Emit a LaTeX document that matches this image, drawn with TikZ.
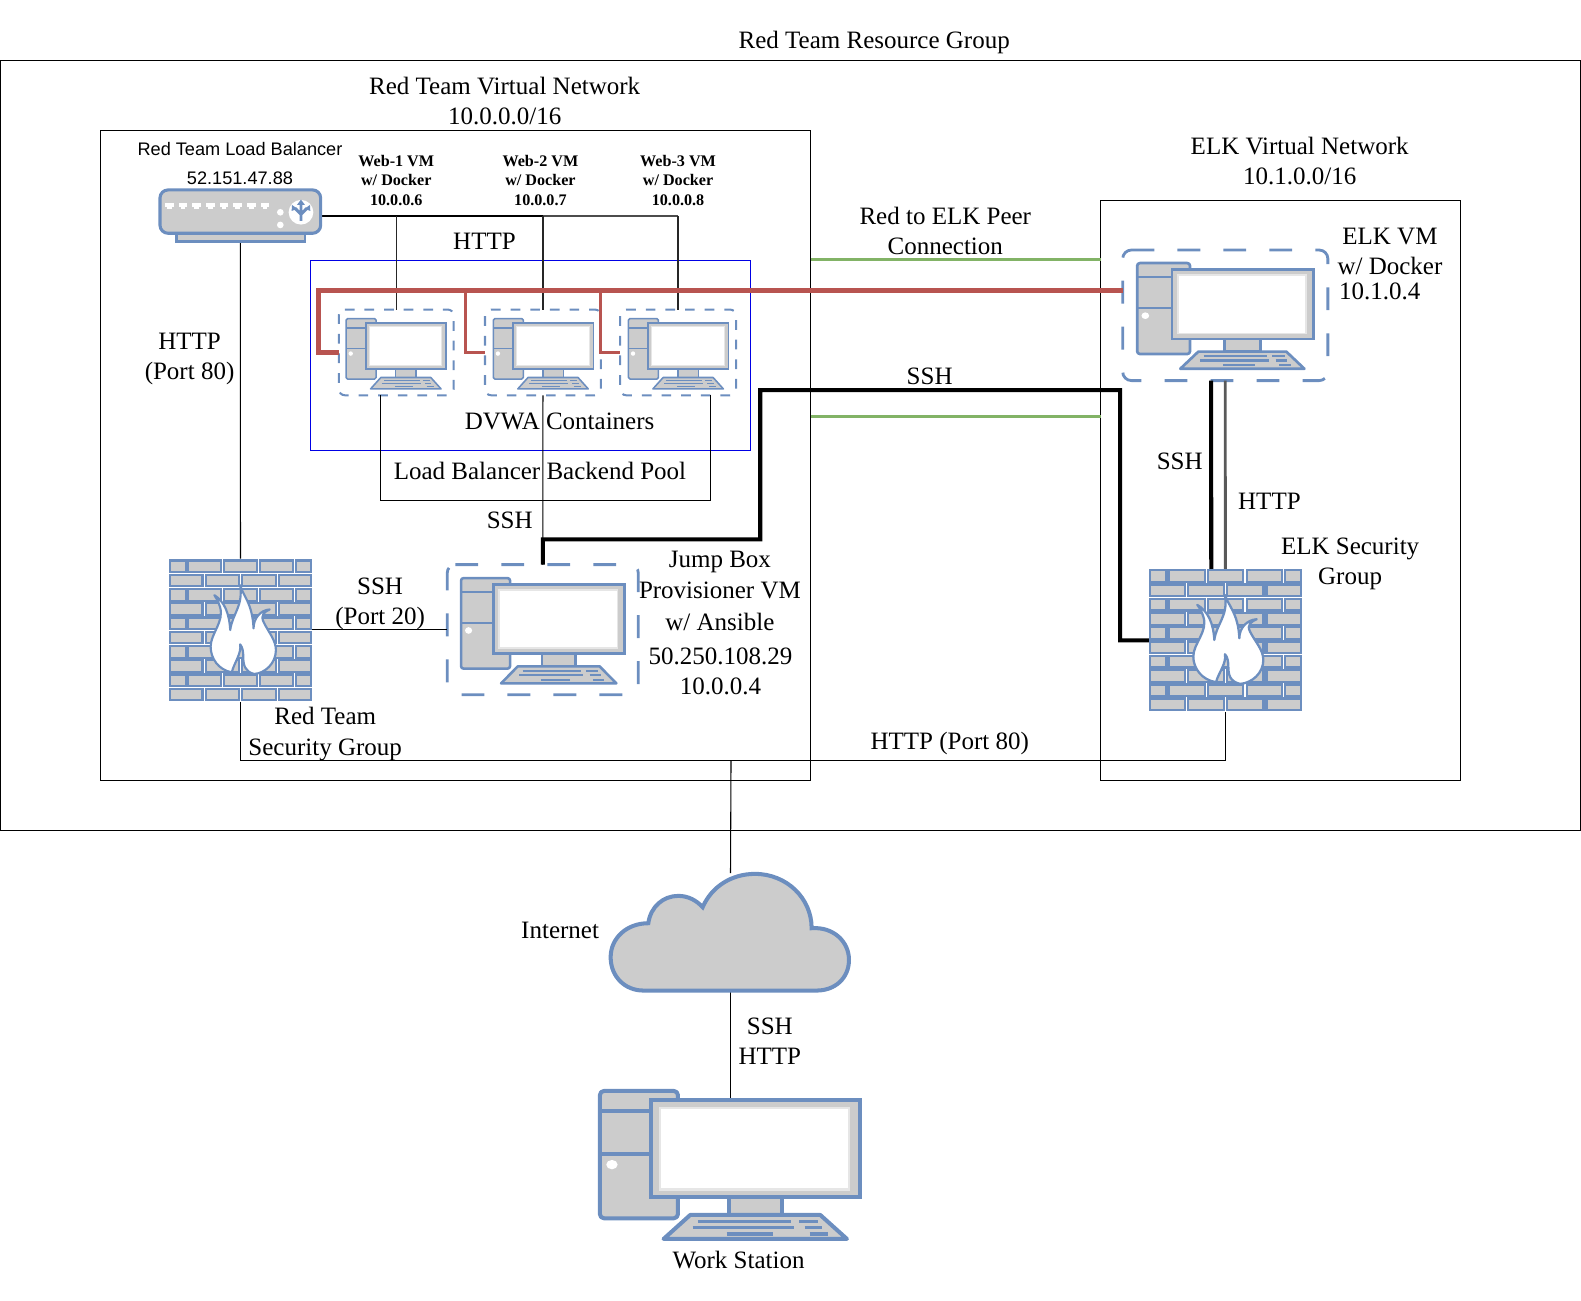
\documentclass[tikz,border=0pt]{standalone}
\usepackage{fontspec}
\setmainfont{Liberation Serif}
\newfontfamily\lbfont{Liberation Sans}
\definecolor{icb}{HTML}{6C8EBF}
\definecolor{icg}{HTML}{CCCCCC}
\definecolor{icl}{HTML}{E6E6E6}
\definecolor{redl}{HTML}{B85450}
\definecolor{grnl}{HTML}{82B366}
\newcommand\pcicon[5]{%
\begin{scope}[shift={(#1,#2)},xscale={#3/787},yscale={#4/452},line join=round]
\filldraw[fill=icg,draw=icb,line width=#5pt,rounded corners=#5pt] (6,6) rectangle (240,388);
\draw[icb,line width=#5pt] (6,65)--(160,65) (6,195)--(160,195);
\fill[white] (42,227) ellipse (17 and 14);
\filldraw[fill=icg,draw=icb,line width=#5pt] (392,325) rectangle (552,378);
\filldraw[fill=icg,draw=icb,line width=#5pt,line join=miter] (160,33) rectangle (787,325);
\fill[icl] (182,53) rectangle (757,306);
\fill[white] (190,60) rectangle (749,298);
\filldraw[fill=icg,draw=icb,line width=#5pt] (277,378)--(667,378)--(747,450)--(197,450)--cycle;
\draw[icb,line width=0.85*#5pt] (300,397)--(580,397) (604,397)--(659,397) (284,415)--(588,415) (620,415)--(672,415) (386,435)--(526,435) (635,435)--(689,435);
\end{scope}}
\newcommand\fwicon[5]{%
\begin{scope}[shift={(#1,#2)},xscale={#3/458},yscale={#4/428}]
\fill[white] (0,0) rectangle (458,428);
\foreach \r in {0,2,4,6,8}{
 \foreach \a/\b in {0/56,58/170,173/286,290/401,405/458}{
  \filldraw[fill=icg,draw=icb,line width=#5pt] (\a+3,{\r*42.8+4}) rectangle (\b-3,{\r*42.8+39});}}
\foreach \r in {1,3,5,7,9}{
 \foreach \a/\b in {0/110,114/228,232/346,349/458}{
  \filldraw[fill=icg,draw=icb,line width=#5pt] (\a+3,{\r*42.8+4}) rectangle (\b-3,{\r*42.8+39});}}
\begin{scope}[shift={(-12,-27)}]
\filldraw[fill=white,draw=icb,line width=#5pt,line join=round]
 (240,105) .. controls (248,135) and (280,160) .. (283,235)
 .. controls (283,205) and (305,180) .. (335,178)
 .. controls (318,185) and (305,195) .. (315,215)
 .. controls (330,245) and (355,270) .. (355,300)
 .. controls (355,340) and (320,370) .. (285,372)
 .. controls (255,365) and (250,345) .. (250,320)
 .. controls (250,305) and (248,292) .. (240,283)
 .. controls (245,310) and (220,340) .. (213,367)
 .. controls (170,360) and (145,325) .. (145,290)
 .. controls (145,250) and (190,215) .. (175,170)
 .. controls (170,155) and (165,145) .. (157,135)
 .. controls (190,155) and (205,190) .. (208,240)
 .. controls (215,190) and (250,170) .. (240,105) -- cycle;
\end{scope}
\end{scope}}
% dashed outline of a box, clockwise from just after its top-left corner
\newcommand\dashoutline[3]{%
\draw[#2,rounded corners=#3] ([xshift=#3]#1.north west) -- (#1.north east) -- (#1.south east) -- (#1.south west) -- (#1.north west) -- ([xshift=#3]#1.north west);}
\tikzset{
 x=0.75pt,y=-0.75pt,
 lab/.style={inner sep=0pt,outer sep=0pt,align=center,font=\fontsize{18.6}{22.5}\selectfont},
 labsp/.style={lab,font=\fontsize{18.6}{23.25}\selectfont},
 lblab/.style={inner sep=0pt,align=center,font=\lbfont\fontsize{13.5}{16}\selectfont},
 weblab/.style={inner sep=0pt,align=center,font=\bfseries\fontsize{12}{14.25}\selectfont},
 anch/.style 2 args={rectangle,inner sep=0pt,outer sep=0pt,minimum width=#1*0.75pt,minimum height=#2*0.75pt},
 dasha/.style={draw=icb,line width=2.1pt,dash pattern=on 17pt off 17.2pt},
 dashb/.style={draw=icb,line width=1.5pt,dash pattern=on 7.2pt off 7.4pt},
 region/.style={draw=black,line width=0.75pt},
 thinln/.style={draw=black,line width=0.8pt},
 webln/.style={draw=black!85,line width=1.1pt},
 thickln/.style={draw=black,line width=3pt,line join=miter},
 redthick/.style={draw=redl,line width=3.6pt,line join=miter},
 redthin/.style={draw=redl,line width=2.2pt,line join=miter},
 peer/.style={draw=grnl,line width=2.2pt},
}
\begin{document}
\begin{tikzpicture}
\useasboundingbox (0,0) rectangle (1568,1290);
% regions
\draw[region] (0.5,60) rectangle (1567.5,824);
\draw[region] (99.5,129.5) rectangle (804,774);
\draw[region] (1091.5,198.5) rectangle (1448.5,774);
\draw[draw=blue!90!black,line width=0.7pt] (308,258.5) rectangle (744.5,446.5);
% anchor nodes
\node[anch={159.3}{51.2}] (lb) at (238.35,214) {};
\node[anch={141.2}{141.2}] (fwred) at (238.5,624.5) {};
\node[anch={151.5}{141.5}] (fwelk) at (1215.3,635) {};
\node[anch={239}{117}] (cloud) at (724.5,924.5) {};
\node[anch={260}{139}] (ws) at (724.5,1160.5) {};
\node[anch={114}{85}] (web1) at (393,349.5) {};
\node[anch={115}{85}] (web2) at (538.5,349.5) {};
\node[anch={115}{85}] (web3) at (672.5,349.5) {};
\node[anch={189.4}{129}] (jump) at (538.3,624.5) {};
\node[anch={203.5}{129.5}] (elk) at (1215.2,312.7) {};
\dashoutline{web1}{dashb}{4.5pt}
\dashoutline{web2}{dashb}{4.5pt}
\dashoutline{web3}{dashb}{4.5pt}
\dashoutline{jump}{dasha}{6pt}
\dashoutline{elk}{dasha}{6.5pt}
% free ends and bends
\coordinate (busR) at (672.5,214);
\coordinate (poolL) at (377.5,496);
\coordinate (poolR) at (704.5,496);
\coordinate (inet) at (725,754);
\coordinate (redW1) at (316,288);
\coordinate (redW2) at (462,288);
\coordinate (redW3) at (596,288);
\coordinate (jmpA) at (538.5,535);
\coordinate (jmpB) at (754,535);
\coordinate (jmpC) at (754,387);
\coordinate (jmpD) at (1111,387);
\coordinate (peerA) at (804,257);
\coordinate (peerB) at (1091.5,257);
\coordinate (peerC) at (804,413.5);
\coordinate (peerD) at (1091.5,413.5);
% thin connectors
\draw[thinln] (web1.south -| poolL) -- (poolL) -- (poolR) -- (web3.south -| poolR);
\draw[thinln] (web2.south) -- (jump.north);
\draw[thinln] (lb.south) -- (fwred.north);
\draw[thinln] (fwred.east) -- (jump.west);
\draw[thinln] (fwred.south) |- (fwelk.south |- inet) -- (fwelk.south);
\draw[thinln] (inet) -- (cloud.north);
\draw[thinln] (cloud.south) -- (ws.north);
% HTTP bus
\draw[black,line width=1.6pt] (lb.east) -- (web2.north |- lb.east);
\draw[black!70,line width=1.6pt] (web2.north |- lb.east) -- (busR);
\draw[webln] (web1.north |- lb.east) -- (web1.north);
\draw[webln] (web2.north |- lb.east) -- (web2.north);
\draw[webln] (web3.north |- lb.east) -- (web3.north);
% peering
\draw[peer] (peerA) -- (peerB);
\draw[peer] (peerC) -- (peerD);
% red
\draw[redthin] (redW2) |- (web2.west);
\draw[redthin] (redW3) |- (web3.west);
\draw[redthick] (elk.west |- redW1) -- (redW1) |- (web1.west);
% thick SSH
\draw[thickln] (jump.north) -- (jmpA) -- (jmpB) -- (jmpC) -- (jmpD) |- (fwelk.west);
\draw[thickln] ([xshift=-10.5pt]elk.south) -- ([xshift=-10.5pt]fwelk.north);
\draw[draw=black!65,line width=2.1pt] (elk.south) -- (fwelk.north);
% icons
\pcicon{342.5}{315}{100}{71}{1.15}
\pcicon{488.5}{315}{100}{71}{1.15}
\pcicon{622.5}{315}{100}{71}{1.15}
\pcicon{456}{571.9}{163.6}{106.3}{1.9}
\pcicon{1126.5}{259.5}{176.1}{106.7}{2}
\pcicon{593}{1080}{260.2}{149.4}{3}
\fwicon{167.9}{554.6}{141.2}{141.2}{1.6}
\fwicon{1139.5}{564.2}{151.5}{141.5}{1.7}
% load balancer
\begin{scope}[shift={(153.7,183.4)},scale=0.3306]
\filldraw[fill=icg,draw=icb,line width=2.2pt] (65,145) rectangle (450,170);
\filldraw[fill=icg,draw=icb,line width=2.3pt,rounded corners=6pt] (15,15) rectangle (497,145);
\foreach \p in {43,84,125,166,207,248,290,330}{
 \fill[white] (\p-13,54) rectangle (\p+13,66);
 \fill[white] (\p-7,66) rectangle (\p+7,72);}
\fill[white] (376,82) circle (10);
\fill[white] (376,120) circle (10);
\fill[white] (438,82) circle (37);
\draw[icb,line width=2.2pt] (438,108)--(438,58) (438,88)--(420,70) (438,88)--(456,70);
\fill[icb] (438,44)--(426,60)--(450,60)--cycle (411,60)--(410,78)--(428,72)--cycle (465,60)--(466,78)--(448,72)--cycle;
\end{scope}
% cloud
\begin{scope}[shift={(575.2,852.8)},scale=0.3306]
\filldraw[fill=icg,draw=icb,line width=3pt,line join=miter]
 (190,392) .. controls (135,392) and (92,350) .. (92,292)
 .. controls (92,235) and (140,190) .. (205,190)
 .. controls (212,140) and (250,108) .. (295,108)
 .. controls (325,108) and (350,122) .. (368,142)
 .. controls (395,80) and (455,42) .. (525,42)
 .. controls (620,42) and (695,115) .. (695,205)
 .. controls (760,200) and (807,245) .. (807,300)
 .. controls (807,355) and (765,392) .. (710,392) -- cycle;
\end{scope}
% labels
\node[lab] (t1) at (867,42.5) {Red Team Resource Group};
\node[lab] (t2) at (500.5,100) {Red Team Virtual Network\\10.0.0.0/16};
\node[lab] (t3) at (1289,160) {ELK Virtual Network\\10.1.0.0/16};
\node[lblab] (t4) at (238,148) {Red Team Load Balancer};
\node[lblab] (t5) at (238,177) {52.151.47.88};
\node[weblab] (t6) at (393,179) {Web-1 VM\\w/ Docker\\10.0.0.6};
\node[weblab] (t7) at (536,179) {Web-2 VM\\w/ Docker\\10.0.0.7};
\node[weblab] (t8) at (672.5,179) {Web-3 VM\\w/ Docker\\10.0.0.8};
\node[lab] (t9) at (480.5,239.5) {HTTP};
\node[lab] (t10) at (188,356) {HTTP\hspace{5pt}\\(Port 80)};
\node[lab] (t11) at (937.5,229) {Red to ELK Peer\\Connection};
\node[lab] (t12) at (1378.5,249) {ELK VM\\w/ Docker};
\node[lab] (t13) at (1368.5,289) {10.1.0.4};
\node[lab] (t14) at (922,373) {SSH};
\node[lab] (t15) at (555,417.5) {DVWA Containers};
\node[lab] (t16) at (535.5,467) {Load Balancer Backend Pool};
\node[lab] (t17) at (505.5,516) {SSH};
\node[lab] (t18) at (1170,457.5) {SSH};
\node[lab] (t19) at (1259,497) {HTTP};
\node[labsp] (t20) at (714,586) {Jump Box\\Provisioner VM\\w/ Ansible};
\node[lab] (t21) at (714.5,665.5) {50.250.108.29\\10.0.0.4};
\node[lab] (t22) at (377,599) {SSH\\(Port 20)};
\node[lab] (t23) at (1339,559) {ELK Security\\Group};
\node[lab] (t24) at (322.5,728) {Red Team\\Security Group};
\node[lab] (t25) at (942,737.5) {HTTP (Port 80)};
\node[lab] (t26) at (555.5,923) {Internet};
\node[lab] (t27) at (763.5,1032.5) {SSH\\HTTP};
\node[lab] (t28) at (732.5,1250) {Work Station};
\end{tikzpicture}
\end{document}
